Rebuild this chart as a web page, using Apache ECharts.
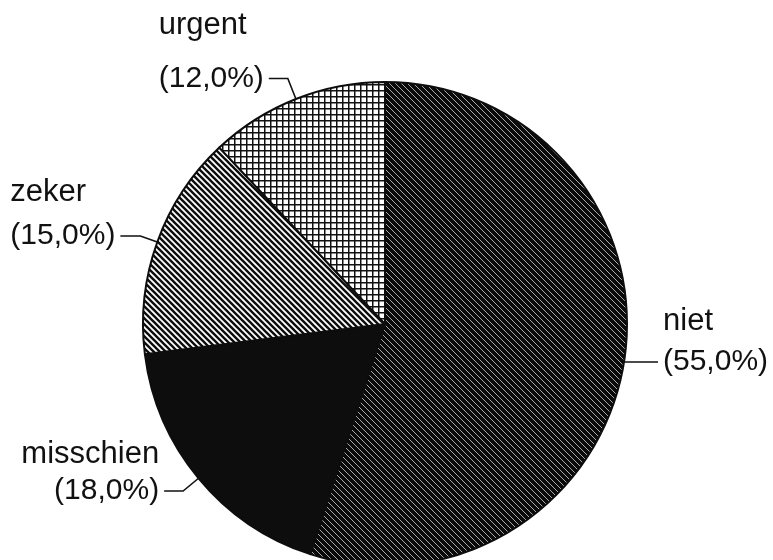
<!DOCTYPE html>
<html>
<head>
<meta charset="utf-8">
<script src="https://cdn.jsdelivr.net/npm/echarts@6/dist/echarts.min.js"></script>
<style>
  html, body { margin: 0; padding: 0; background: #fff; }
  #chart { width: 773px; height: 560px; }
</style>
</head>
<body>
<div id="chart"></div>
<script>
// Answer categories and their shares (percent)
const categories = ['niet', 'misschien', 'zeker', 'urgent'];
const shares = [55.0, 18.0, 15.0, 12.0];

// Diagonal stripe tile, lines running top-left to bottom-right
function stripeTile(size, width, bg, fg) {
  const c = document.createElement('canvas');
  c.width = size; c.height = size;
  const ctx = c.getContext('2d');
  ctx.fillStyle = bg;
  ctx.fillRect(0, 0, size, size);
  ctx.strokeStyle = fg;
  ctx.lineWidth = width;
  ctx.lineCap = 'square';
  for (let k = -1; k <= 1; k++) {
    ctx.beginPath();
    ctx.moveTo(k * size - 1, -1);
    ctx.lineTo(k * size + size + 1, size + 1);
    ctx.stroke();
  }
  return c;
}

// Square grid tile
function gridTile(size, width) {
  const c = document.createElement('canvas');
  c.width = size; c.height = size;
  const ctx = c.getContext('2d');
  ctx.fillStyle = '#fff';
  ctx.fillRect(0, 0, size, size);
  ctx.fillStyle = '#111';
  ctx.fillRect(0, 0, width, size);
  ctx.fillRect(0, 0, size, width);
  return c;
}

const fills = {
  niet: { image: stripeTile(6, 0.75, '#0a0a0a', '#e0e0e0'), repeat: 'repeat' },
  misschien: '#0d0d0d',
  zeker: { image: stripeTile(6, 2.4, '#fff', '#0d0d0d'), repeat: 'repeat' },
  urgent: { image: gridTile(6, 1.5), repeat: 'repeat' }
};

// Leader line lengths, spacing between the two text lines and line alignment
const labelSetup = {
  niet:      { len: 1,  len2: 33, gap: 41, lineAlign: 'left' },
  misschien: { len: 20, len2: 19, gap: 37, lineAlign: 'right' },
  zeker:     { len: 18, len2: 20, gap: 43, lineAlign: 'left' },
  urgent:    { len: 22, len2: 19, gap: 53, lineAlign: 'left' }
};

const pct = v => '(' + v.toFixed(1).replace('.', ',') + '%)';
const FONT = '"Liberation Sans", Arial, sans-serif';

const data = categories.map((name, i) => {
  const s = labelSetup[name];
  return {
    name: name,
    value: shares[i],
    itemStyle: { color: fills[name] },
    labelLine: { length: s.len, length2: s.len2 },
    label: {
      // third (blank) line keeps the leader line at the percentage line
      formatter: '{n|' + name + '}\n{v|' + pct(shares[i]) + '}\n{n| }',
      rich: {
        n: { lineHeight: s.gap, align: s.lineAlign, fontSize: 31, color: '#111', fontFamily: FONT },
        v: { lineHeight: s.gap, align: s.lineAlign, fontSize: 30, color: '#111', fontFamily: FONT }
      }
    }
  };
});

const chart = echarts.init(document.getElementById('chart'), null, { renderer: 'canvas' });
chart.setOption({
  backgroundColor: '#fff',
  animation: false,
  series: [{
    type: 'pie',
    center: [385, 324],
    radius: 242,
    startAngle: 90,
    clockwise: true,
    avoidLabelOverlap: false,
    silent: true,
    itemStyle: { borderColor: '#0d0d0d', borderWidth: 2 },
    label: {
      show: true,
      position: 'outside',
      distanceToLabelLine: 5,
      fontSize: 30,
      color: '#111',
      fontFamily: FONT
    },
    labelLine: { show: true, lineStyle: { color: '#111', width: 1.6 } },
    emphasis: { disabled: true },
    data: data
  }]
});
</script>
</body>
</html>
